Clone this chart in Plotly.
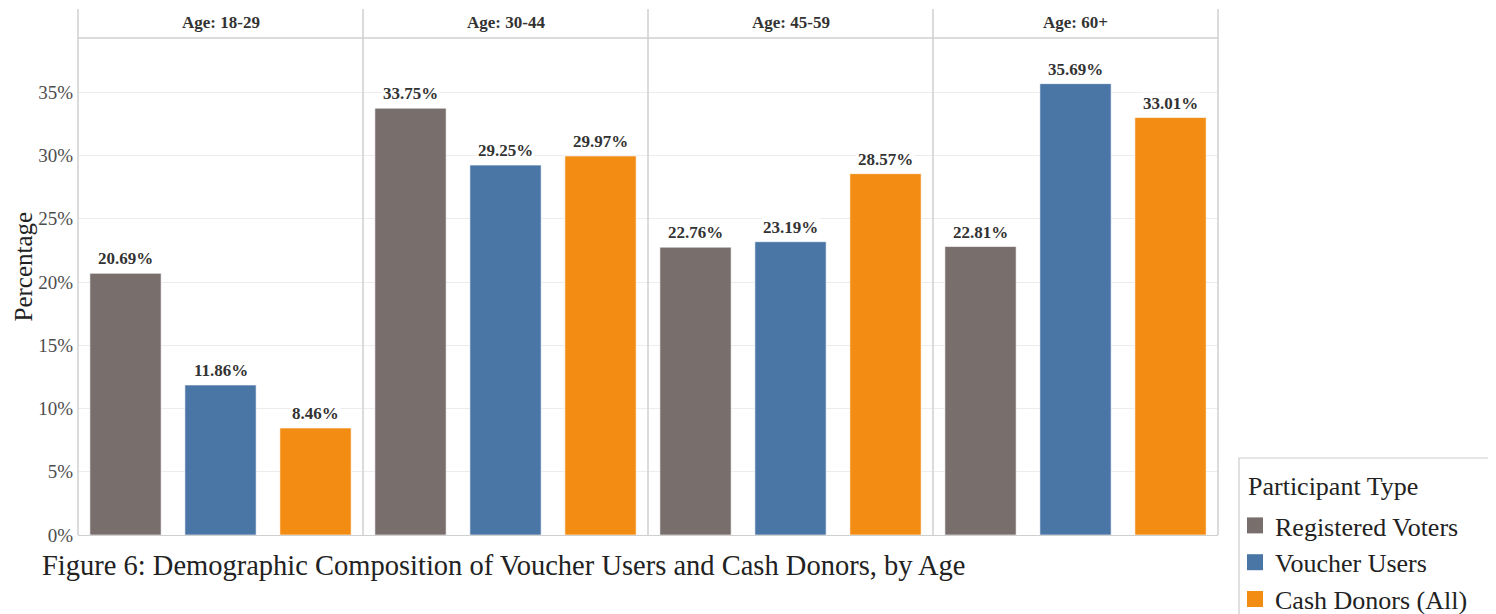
import plotly.graph_objects as go
from plotly.subplots import make_subplots

ages = ["Age: 18-29", "Age: 30-44", "Age: 45-59", "Age: 60+"]
types = ["Registered Voters", "Voucher Users", "Cash Donors (All)"]
registered = [20.69, 33.75, 22.76, 22.81]
voucher = [11.86, 29.25, 23.19, 35.69]
cash = [8.46, 29.97, 28.57, 33.01]
colors = ["#786E6C", "#4A76A6", "#F28C12"]
y_ticks = [0, 5, 10, 15, 20, 25, 30, 35]
caption = "Figure 6: Demographic Composition of Voucher Users and Cash Donors, by Age"
legend_title = "Participant Type"

series = [registered, voucher, cash]
FONT = "Liberation Serif"

# plot area geometry (figure px)
W, H = 1488, 606
L, R, T, B = 70, 278, 30, 79
PW, PH = W - L - R, H - T - B


def px_x(x):
    return (x - L) / PW


def px_y(y):
    return (H - B - y) / PH


fig = make_subplots(rows=1, cols=4, shared_yaxes=True, horizontal_spacing=0)

annotations = []
for i, age in enumerate(ages):
    col = i + 1
    for j, t in enumerate(types):
        fig.add_trace(
            go.Bar(
                x=[t], y=[series[j][i]], name=t, legendgroup=t,
                showlegend=False, width=0.75,
                marker=dict(color=colors[j], line=dict(color="white", width=0.6)),
                hoverinfo="skip",
            ),
            row=1, col=col,
        )
        xr = "x" if i == 0 else f"x{col}"
        annotations.append(dict(
            x=t, y=series[j][i], xref=xr, yref="y",
            text=f"<b>{series[j][i]:.2f}%</b>", showarrow=False,
            yanchor="bottom", yshift=3, bgcolor="white", borderpad=1,
            font=dict(family=FONT, size=17, color="#333333"),
        ))
    xd = "x domain" if i == 0 else f"x{col} domain"
    annotations.append(dict(
        x=0.5, y=px_y(15), xref=xd, yref="paper", text=f"<b>{age}</b>",
        showarrow=False, yanchor="middle",
        font=dict(family=FONT, size=17, color="#333333"),
    ))
    fig.update_xaxes(
        row=1, col=col, categoryorder="array", categoryarray=types,
        showticklabels=False, showgrid=False, ticks="",
        showline=True, linecolor="#cfcfcf", linewidth=1, zeroline=False,
        range=[-0.5, 2.5],
    )

# legend-only entries with larger square swatches
for j, t in enumerate(types):
    fig.add_trace(go.Scatter(
        x=[None], y=[None], mode="markers", name=t, legendgroup=t,
        marker=dict(symbol="square", size=16, color=colors[j]),
        showlegend=True, hoverinfo="skip",
    ), row=1, col=1)

annotations.append(dict(
    x=px_x(32), y=px_y(557), xref="paper", yref="paper",
    text=caption, showarrow=False, xanchor="left", yanchor="middle",
    font=dict(family=FONT, size=28.5, color="#222222"),
))
annotations.append(dict(
    x=px_x(0), y=px_y(259), xref="paper", yref="paper",
    text="Percentage", showarrow=False, textangle=-90,
    xanchor="left", yanchor="middle", borderpad=0,
    font=dict(family=FONT, size=25, color="#222222"),
))
annotations.append(dict(
    x=px_x(1238), y=px_y(478), xref="paper", yref="paper",
    text=legend_title, showarrow=False, xanchor="left", yanchor="middle",
    font=dict(family=FONT, size=26, color="#222222"),
))

fig.update_yaxes(
    range=[0, 39.3], tickvals=y_ticks, ticktext=[f"{v}%" for v in y_ticks],
    showgrid=True, gridcolor="#ececec", gridwidth=1, zeroline=False,
    ticks="", tickfont=dict(family=FONT, size=19, color="#4d4d4d"),
    showline=False, ticklabelstandoff=4,
)

shapes = []
top = px_y(1)
for k in range(5):
    shapes.append(dict(type="line", xref="paper", yref="paper",
                       x0=k / 4, x1=k / 4, y0=0, y1=top,
                       line=dict(color="#cfcfcf", width=1.5), layer="above"))
shapes.append(dict(type="line", xref="paper", yref="paper", x0=0, x1=1,
                   y0=1, y1=1, line=dict(color="#cfcfcf", width=1.5)))
# legend frame
shapes.append(dict(type="rect", xref="paper", yref="paper",
                   x0=px_x(1231), x1=px_x(1482), y0=px_y(620), y1=px_y(450),
                   line=dict(color="#cccccc", width=1.2), fillcolor="rgba(0,0,0,0)"))

fig.update_layout(
    width=W, height=H,
    margin=dict(l=L, r=R, t=T, b=B, autoexpand=False),
    plot_bgcolor="white", paper_bgcolor="white",
    barmode="group", bargap=0.25,
    annotations=annotations, shapes=shapes,
    font=dict(family=FONT, color="#333333"),
    legend=dict(
        x=px_x(1227), y=px_y(494), xanchor="left", yanchor="top",
        font=dict(family=FONT, size=26, color="#222222"),
        borderwidth=0, bgcolor="rgba(0,0,0,0)",
        traceorder="normal", itemsizing="trace", tracegroupgap=7,
    ),
)

fig.write_html("out.html")
